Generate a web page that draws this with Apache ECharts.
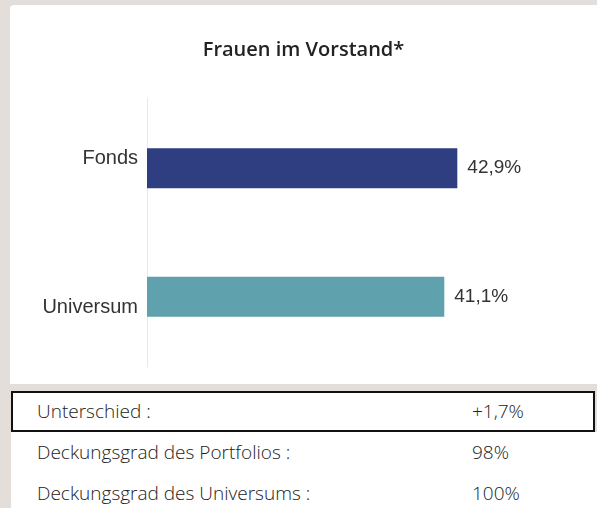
<!DOCTYPE html>
<html>
<head>
<meta charset="utf-8">
<script src="https://cdn.jsdelivr.net/npm/echarts@6/dist/echarts.min.js"></script>
<style>
  html, body { margin: 0; padding: 0; }
  body { width: 597px; height: 508px; background: #e3ded9; position: relative; overflow: hidden; }
  .card { position: absolute; left: 10px; top: 5px; width: 587px; height: 379px; background: #fff; border-top-left-radius: 4px; }
  .row { position: absolute; left: 11px; width: 586px; height: 41px; background: #fff;
         font-family: "Open Sans", sans-serif; font-weight: 300; font-size: 19px; color: #222; }
  .row span { position: absolute; top: 0; line-height: 41px; }
  .row .k { left: 26px; }
  .row .v { left: 461px; }
  .row.boxed { top: 391px; width: 580px; height: 37px; border: 2px solid #111; }
  .row.boxed span { line-height: 37px; left: 24px; }
  .row.boxed .v { left: 459px; }
</style>
</head>
<body>
<div class="card" id="chart"></div>
<div id="table"></div>
<script>
// Werte
const categories = ['Fonds', 'Universum'];
const values = [42.9, 41.1];
const barColors = ['#2f3e80', '#5fa1ad'];
const tableKeys = ['Unterschied :', 'Deckungsgrad des Portfolios :', 'Deckungsgrad des Universums :'];
const tableValues = ['+1,7%', '98%', '100%'];

// tabelle unter dem chart
const table = document.getElementById('table');
const rowTops = [391, 432, 473];
tableKeys.forEach((k, i) => {
  const row = document.createElement('div');
  row.className = i === 0 ? 'row boxed' : 'row';
  if (i > 0) row.style.top = rowTops[i] + 'px';
  row.innerHTML = '<span class="k"></span><span class="v"></span>';
  row.querySelector('.k').textContent = k;
  row.querySelector('.v').textContent = tableValues[i];
  table.appendChild(row);
});

let myChart = echarts.init(document.getElementById('chart'));
let option = {
  animation: false,
  title: {
    text: 'Frauen im Vorstand*',
    left: 'center',
    top: 30,
    textStyle: {
      fontFamily: 'Open Sans',
      fontWeight: 600,
      fontSize: 20,
      color: '#222'
    }
  },
  grid: [
    // bars
    { left: 137, right: 16, top: 99, bottom: 23 },
    // nur für die lange achsenlinie
    { left: 137, right: 16, top: 93, bottom: 17 }
  ],
  xAxis: [
    { type: 'value', min: 0, max: 60, show: false, gridIndex: 0 },
    { type: 'value', min: 0, max: 60, show: false, gridIndex: 1 }
  ],
  yAxis: [{
    type: 'category',
    gridIndex: 0,
    data: categories,
    inverse: true,
    axisTick: { show: false },
    axisLine: { show: false },
    axisLabel: {
      margin: 9,
      formatter: function (v) {
        return v === 'Fonds' ? '{up|' + v + '}' : '{down|' + v + '}';
      },
      rich: {
        up: { fontFamily: 'Liberation Sans', fontSize: 20, color: '#333', padding: [0, 0, 19, 0] },
        down: { fontFamily: 'Liberation Sans', fontSize: 20, color: '#333', padding: [22, 0, 0, 0] }
      }
    }
  }, {
    type: 'value',
    gridIndex: 1,
    axisLabel: { show: false },
    axisTick: { show: false },
    splitLine: { show: false },
    axisLine: {
      show: true,
      lineStyle: { color: '#e8e8e8', width: 1 }
    }
  }],
  series: [{
    type: 'bar',
    xAxisIndex: 0,
    yAxisIndex: 0,
    barWidth: 40,
    data: values.map((v, i) => ({
      value: v,
      itemStyle: { color: barColors[i] }
    })),
    label: {
      show: true,
      position: 'right',
      distance: 10,
      fontFamily: 'Liberation Sans',
      fontSize: 19,
      color: '#333',
      formatter: function (p) {
        return p.value.toFixed(1).replace('.', ',') + '%';
      }
    }
  }]
};
myChart.setOption(option);
</script>
</body>
</html>
